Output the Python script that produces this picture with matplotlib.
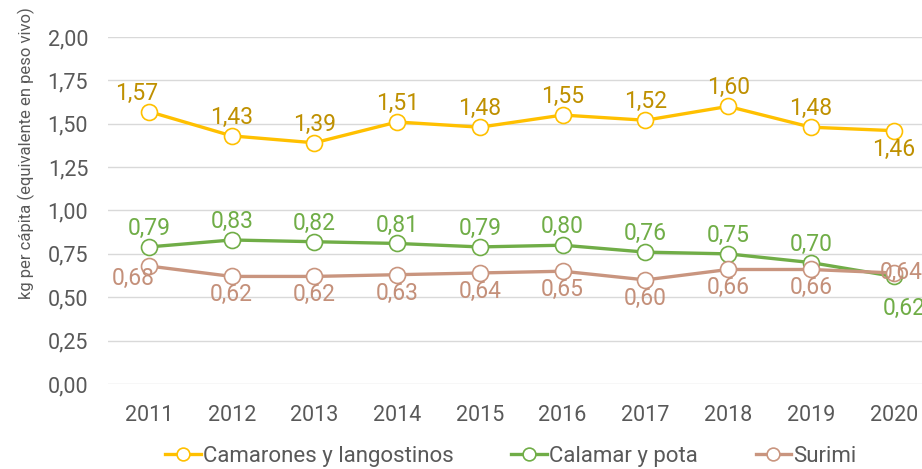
import matplotlib
matplotlib.use('agg')
import matplotlib.pyplot as plt

years = ['2011', '2012', '2013', '2014', '2015', '2016', '2017', '2018', '2019', '2020']
camarones = [1.57, 1.43, 1.39, 1.51, 1.48, 1.55, 1.52, 1.60, 1.48, 1.46]
calamar = [0.79, 0.83, 0.82, 0.81, 0.79, 0.80, 0.76, 0.75, 0.70, 0.62]
surimi = [0.68, 0.62, 0.62, 0.63, 0.64, 0.65, 0.60, 0.66, 0.66, 0.64]

plt.rcParams['font.family'] = ['Roboto', 'DejaVu Sans']

fig = plt.figure(figsize=(9.22, 4.69), dpi=100)
ax = fig.add_axes([0.1167, 0.1812, 0.8974, 0.740])

x = list(range(len(years)))
# label offsets in points (dx, dy, ha, va)
up = (0, 5, 'center', 'bottom')
down = (0, -5, 'center', 'top')
series = [
    ('Camarones y langostinos', camarones, '#FFC000', '#BF9000',
     [(-9, 5, 'center', 'bottom')] + [up] * 8 + [down]),
    ('Calamar y pota', calamar, '#70AD47', '#70AD47',
     [up] * 9 + [(8, -15, 'center', 'top')]),
    ('Surimi', surimi, '#C9957F', '#C4907A',
     [(-11, -1, 'center', 'top')] + [down] * 8 + [(-10, 0, 'left', 'center')]),
]

for name, vals, col, tcol, pos in series:
    ax.plot(x, vals, color=col, lw=2.4, marker='o', ms=11.5, mfc='white',
            mec=col, mew=1.2, label=name, clip_on=False, zorder=3)
    for xi, v, (dx, dy, ha, va) in zip(x, vals, pos):
        txt = '{:.2f}'.format(v).replace('.', ',')
        ax.annotate(txt, (xi, v), xytext=(dx, dy), textcoords='offset points',
                    ha=ha, va=va, color=tcol, fontsize=16.5, zorder=4)

ax.set_xlim(-0.5, 9.5)
ax.set_ylim(0, 2.0)
ax.set_yticks([0, 0.25, 0.5, 0.75, 1.0, 1.25, 1.5, 1.75, 2.0])
ax.set_yticklabels(['{:.2f}'.format(t).replace('.', ',') for t in ax.get_yticks()])
ax.set_xticks(x)
ax.set_xticklabels(years)
ax.tick_params(length=0, labelsize=15.5, colors='#595959')
ax.tick_params(axis='x', pad=15)
ax.tick_params(axis='y', pad=14)
ax.grid(axis='y', color='#D9D9D9', lw=1)
ax.set_axisbelow(True)
for s in ax.spines.values():
    s.set_visible(False)
ax.set_ylabel('kg per cápita (equivalente en peso vivo)', fontsize=12, color='#595959')
ax.yaxis.set_label_coords(-0.088, 0.665)

fig.legend(loc='lower center', bbox_to_anchor=(0.554, -0.038), ncol=3, frameon=False,
           fontsize=16, handlelength=1.6, handletextpad=0.1, columnspacing=2.6,
           labelcolor='#595959', markerscale=0.8)

plt.savefig('out.png', dpi=100)
